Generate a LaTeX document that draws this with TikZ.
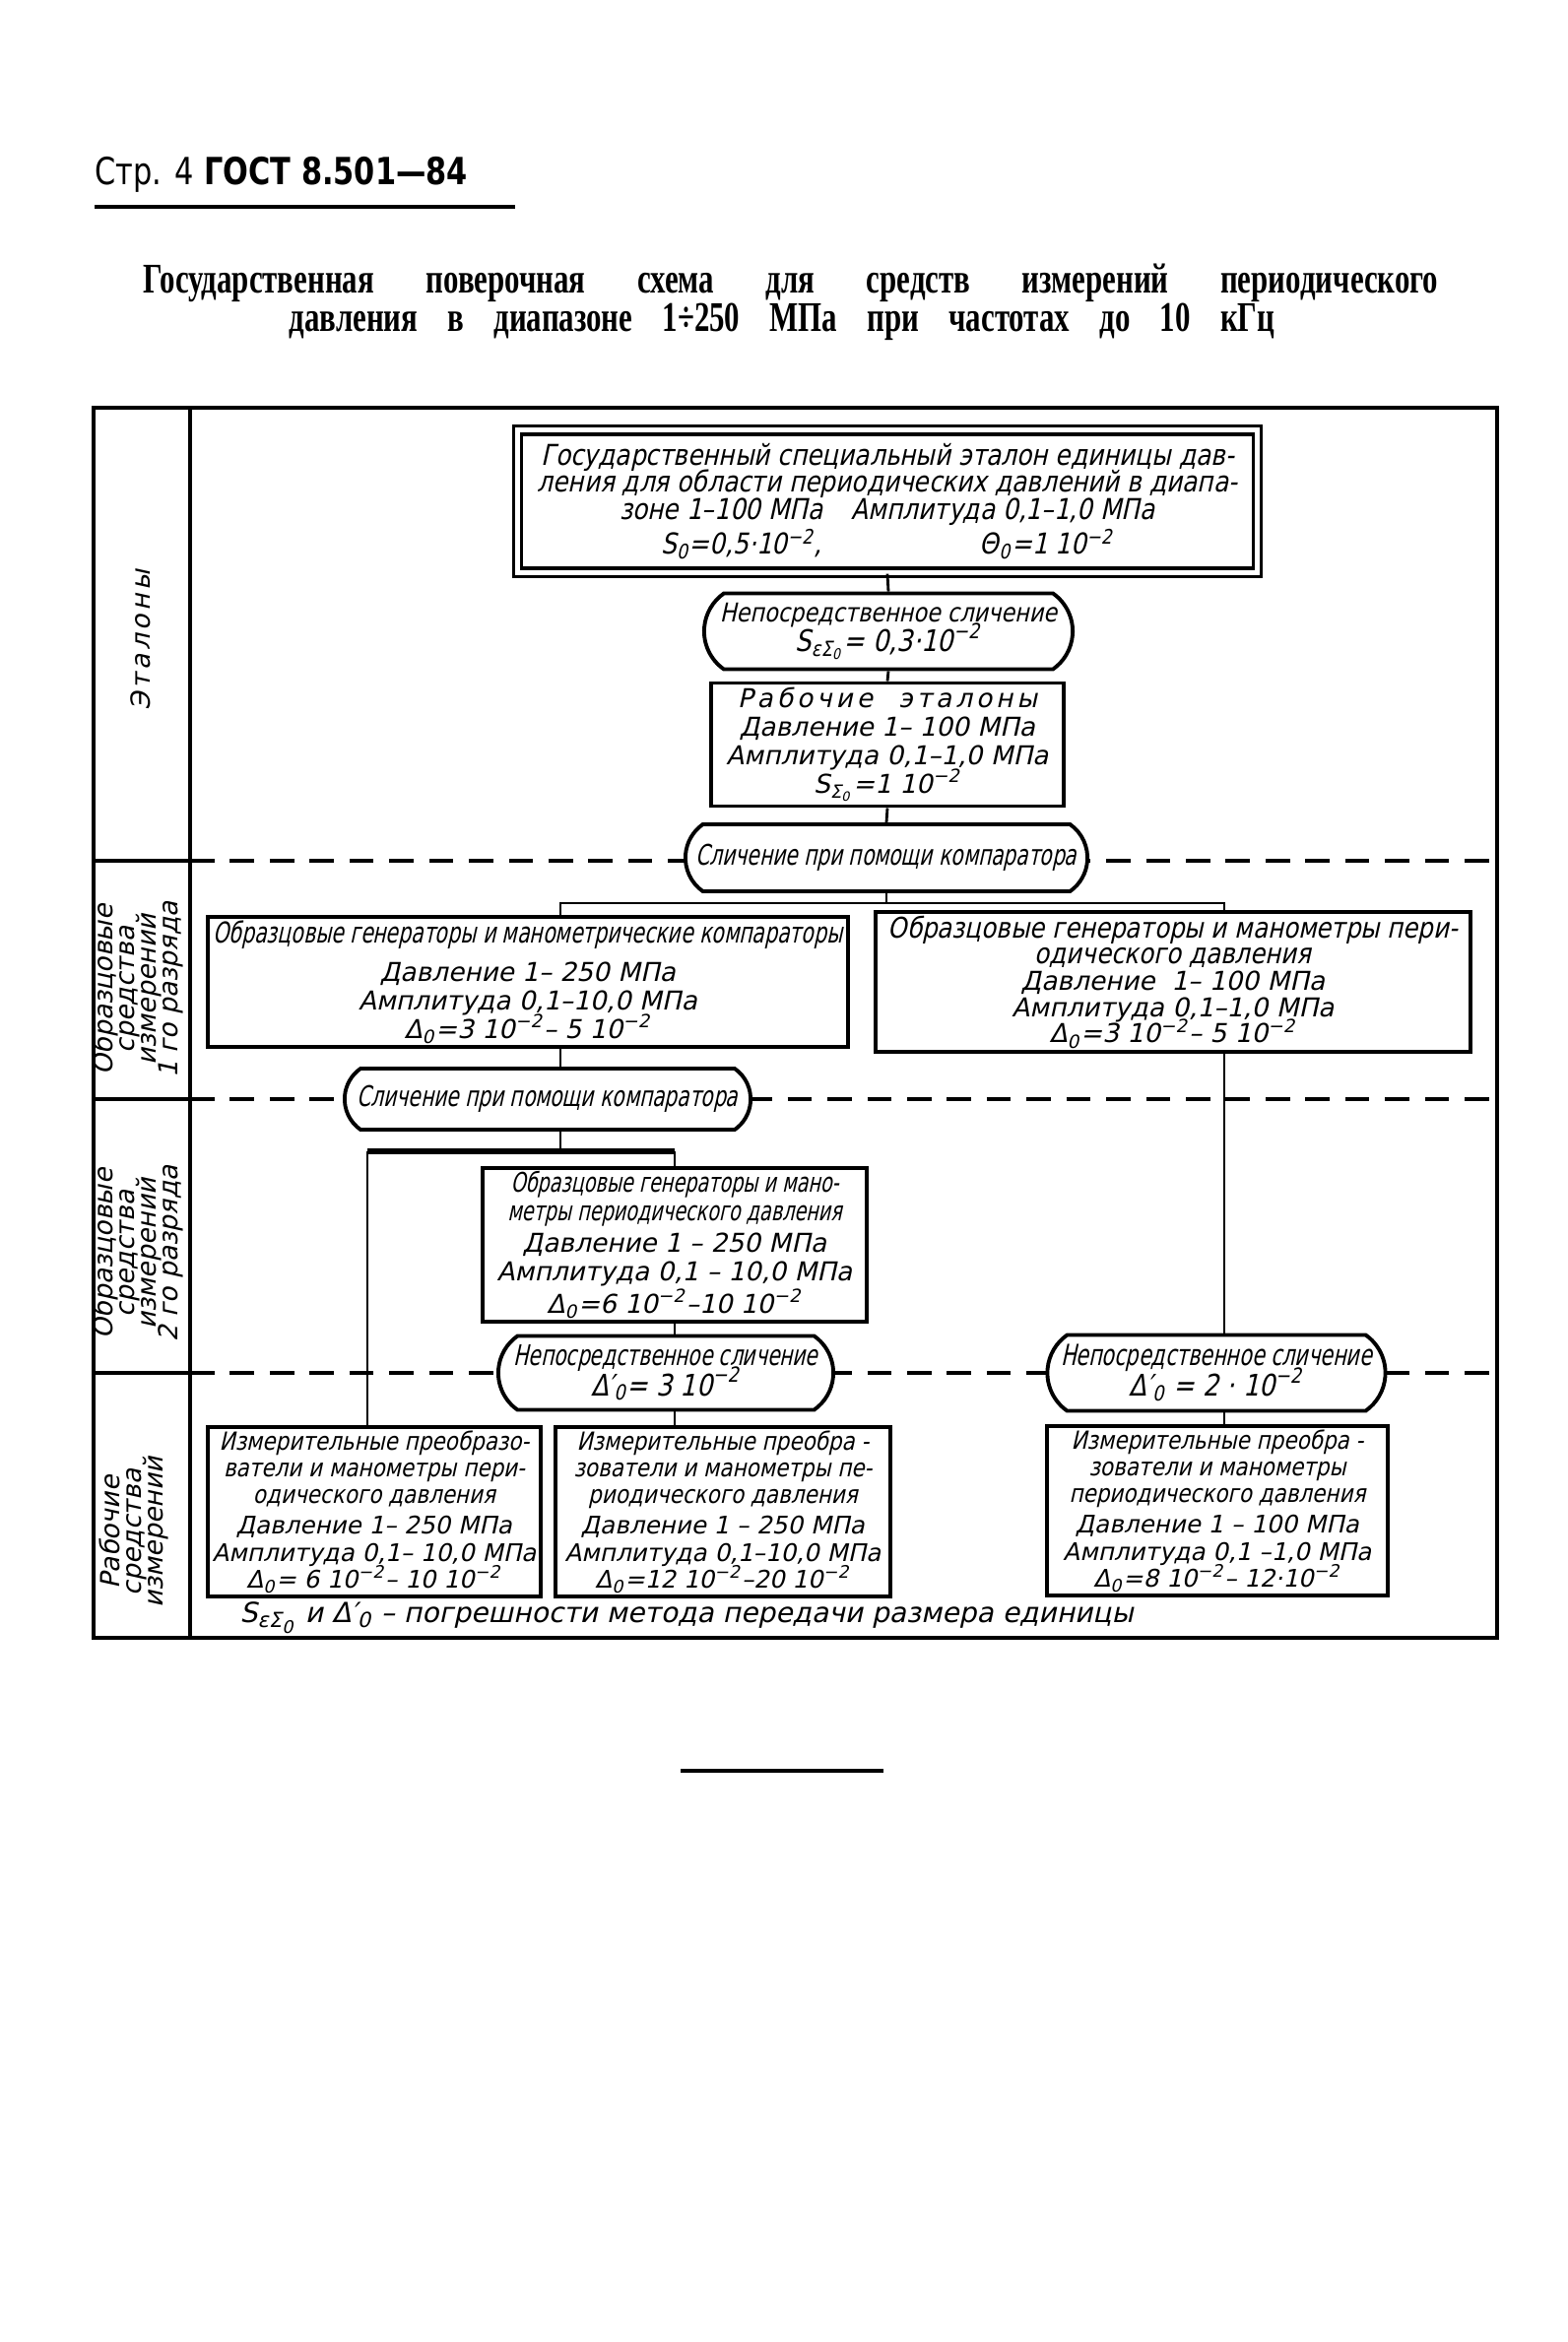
\documentclass[tikz,border=0pt]{standalone}
\usepackage{fontspec}
\setmainfont{DejaVu Sans}
\newfontfamily\gost[FakeSlant=0.22]{DejaVu Sans}
\newfontfamily\gostn[FakeSlant=0.22,FakeStretch=0.85]{DejaVu Sans}
\newfontfamily\gostc[FakeSlant=0.22,FakeStretch=0.7]{DejaVu Sans}
\newfontfamily\headfont[FakeStretch=0.8]{DejaVu Sans}
\newfontfamily\titlefont[FakeStretch=0.72]{Liberation Serif}
\usetikzlibrary{shapes.misc}
\newcommand{\mdva}{\textsuperscript{−2}}
\newcommand{\gostsm}{\gostn\fontsize{7.2}{6.6}\selectfont}
\newcommand{\gostw}{\gost\fontsize{7}{7.8}\selectfont}
\newcommand{\gostnorm}{\gost\fontsize{7.5}{8.2}\selectfont}
\newcommand{\gostbig}{\gostn\fontsize{8.6}{9}\selectfont}
\begin{document}
\setlength{\lineskiplimit}{-5pt}
\begin{tikzpicture}[x=0.01cm, y=-0.01cm,
  box/.style={draw, line width=1.1pt, inner sep=1pt, align=center, fill=white, font=\gostnorm},
  cmp/.style={box, shape=rounded rectangle, rounded rectangle arc length=110},
  link/.style={line width=0.8pt},
  sep/.style={line width=1.1pt, dash pattern=on 7pt off 4.5pt},
  side/.style={rotate=90, align=center, font=\gost\fontsize{7.6}{6.2}\selectfont}]
\useasboundingbox (0,0) rectangle (1592,2378);
\fill[white] (0,0) rectangle (1592,2378);
% header and title
\node[anchor=base west, inner sep=0pt, font=\headfont\bfseries\fontsize{10.8}{12}\selectfont] (hdr) at (96,187) {{\mdseries Стр. 4} ГОСТ 8.501—84};
\draw[line width=1.3pt] (96,210) -- (523,210);
\node[anchor=base, inner sep=0pt, font=\titlefont\bfseries\fontsize{12.2}{13}\selectfont] (ttl1) at (803,297) {\makebox[13.14cm][s]{Государственная поверочная схема для средств измерений периодического}};
\node[anchor=base, inner sep=0pt, font=\titlefont\bfseries\fontsize{12.2}{13}\selectfont] (ttl2) at (794,336) {\makebox[10cm][s]{давления в диапазоне 1÷250 МПа при частотах до 10 кГц}};
% frame
\draw[line width=1.3pt] (95,414) rectangle (1520,1663);
\draw[line width=1.1pt] (193,414) -- (193,1663);
\foreach \y in {874,1116,1394} {
  \draw[line width=1.1pt] (95,\y) -- (193,\y);
  \draw[sep] (193,\y) -- (1520,\y);
}
\node[side] (lab1) at (143,650) {\addfontfeature{LetterSpace=13}Эталоны};
\node[side] (lab2) at (140,1005) {Образцовые\\средства\\измерений\\1 го разряда};
\node[side] (lab3) at (140,1273) {Образцовые\\средства\\измерений\\2 го разряда};
\node[side] (lab4) at (136,1556) {Рабочие\\средства\\измерений};
% etalony
\node[box, double, double distance=0.05cm, line width=0.9pt, minimum width=7.5cm, minimum height=1.44cm, font=\gostn\fontsize{8.3}{7.9}\selectfont] (gse) at (901,509)
  {Государственный специальный эталон единицы дав-\\ления для области периодических давлений в диапа-\\зоне 1–100 МПа\quad Амплитуда 0,1–1,0 МПа\\[2pt]S\textsubscript{0}=0,5·10\mdva,\hspace{1.6cm}Θ\textsubscript{0}=1 10\mdva};
\node[cmp, minimum width=3.81cm, minimum height=0.77cm, font=\gostn\fontsize{7.5}{8.6}\selectfont] (ne1) at (902,641)
  {Непосредственное сличение\\\gostbig S\textsubscript{εΣ\textsubscript{0}}= 0,3·10\mdva};
\node[box, minimum width=3.58cm, minimum height=1.25cm] (rab) at (901,756)
  {{\addfontfeature{LetterSpace=15}Рабочие\quad эталоны}\\Давление 1– 100 МПа\\Амплитуда 0,1–1,0 МПа\\S\textsubscript{Σ\textsubscript{0}}=1 10\mdva};
\node[cmp, minimum width=4.15cm, minimum height=0.68cm, font=\gostc\fontsize{8.2}{9}\selectfont] (cmp1) at (900,871)
  {Сличение при помощи компаратора};
% 1 razryad
\node[box, minimum width=6.49cm, minimum height=1.32cm] (obr1a) at (536,997)
  {{\gostc\fontsize{8.3}{9}\selectfont Образцовые генераторы и манометрические компараторы}\\[3pt]Давление 1– 250 МПа\\Амплитуда 0,1–10,0 МПа\\Δ\textsubscript{0}=3 10\mdva– 5 10\mdva};
\node[box, minimum width=6.03cm, minimum height=1.32cm, font=\gost\fontsize{7.5}{7.6}\selectfont] (obr1b) at (1191,997)
  {\gostn\fontsize{8.2}{7.4}\selectfont Образцовые генераторы и манометры пери-\\\gostn\fontsize{8.2}{7.4}\selectfont одического давления\\Давление \ 1– 100 МПа\\Амплитуда 0,1–1,0 МПа\\Δ\textsubscript{0}=3 10\mdva– 5 10\mdva};
\node[cmp, minimum width=4.19cm, minimum height=0.62cm, font=\gostc\fontsize{8.2}{9}\selectfont] (cmp2) at (556,1116)
  {Сличение при помощи компаратора};
% 2 razryad
\node[box, minimum width=3.89cm, minimum height=1.52cm] (obr2) at (685,1264)
  {\gostc\fontsize{7.8}{6.6}\selectfont Образцовые генераторы и мано-\\\gostc\fontsize{7.8}{6.6}\selectfont метры периодического давления\\[1pt]Давление 1 – 250 МПа\\Амплитуда 0,1 – 10,0 МПа\\[1pt]Δ\textsubscript{0}=6 10\mdva–10 10\mdva};
\node[cmp, minimum width=3.47cm, minimum height=0.75cm, font=\gostc\fontsize{8.2}{8.6}\selectfont] (ne2) at (676,1394)
  {Непосредственное сличение\\\gostbig Δ′\textsubscript{0}= 3 10\mdva};
\node[cmp, minimum width=3.5cm, minimum height=0.77cm, font=\gostc\fontsize{8.4}{8.8}\selectfont] (ne3) at (1235,1394)
  {Непосредственное сличение\\\gostbig Δ′\textsubscript{0} = 2 · 10\mdva};
% rabochie
\node[box, minimum width=3.37cm, minimum height=1.69cm, font=\gostw] (izm1) at (380,1535)
  {\gostsm Измерительные преобразо-\\\gostsm ватели и манометры пери-\\\gostsm одического давления\\[1pt]Давление 1– 250 МПа\\Амплитуда 0,1– 10,0 МПа\\Δ\textsubscript{0}= 6 10\mdva– 10 10\mdva};
\node[box, minimum width=3.4cm, minimum height=1.69cm, font=\gostw] (izm2) at (734,1535)
  {\gostsm Измерительные преобра -\\\gostsm зователи и манометры пе-\\\gostsm риодического давления\\[1pt]Давление 1 – 250 МПа\\Амплитуда 0,1–10,0 МПа\\Δ\textsubscript{0}=12 10\mdva–20 10\mdva};
\node[box, minimum width=3.45cm, minimum height=1.69cm, font=\gostw] (izm3) at (1236,1534)
  {\gostsm Измерительные преобра -\\\gostsm зователи и манометры\\\gostsm периодического давления\\[1pt]Давление 1 – 100 МПа\\Амплитуда 0,1 –1,0 МПа\\Δ\textsubscript{0}=8 10\mdva– 12·10\mdva};
\node[anchor=base west, inner sep=0pt, font=\gost\fontsize{8}{9}\selectfont] (prim) at (243,1647)
  {S\textsubscript{εΣ\textsubscript{0}} и Δ′\textsubscript{0} – погрешности метода передачи размера единицы};
% connectors
\coordinate (j1) at (569,917);
\coordinate (j2) at (1243,917);
\coordinate (j3) at (373,1169);
\coordinate (j4) at (685,1169);
\draw[link] (gse.south) -- (ne1.north);
\draw[link] (ne1.south) -- (rab.north);
\draw[link] (rab.south) -- (cmp1.north);
\draw[link] (cmp1.south) -- (cmp1.south |- j1);
\draw[link] (j1 |- obr1a.north) -- (j1) -- (j2) -- (j2 |- obr1b.north);
\draw[link] (j1 |- obr1a.south) -- (j1 |- cmp2.north);
\draw[link] (j1 |- cmp2.south) -- (j1 |- j3);
\draw[line width=1.5pt] (j3) -- (j4);
\draw[link] (j3) -- (j3 |- izm1.north);
\draw[link] (j4) -- (j4 |- obr2.north);
\draw[link] (j4 |- obr2.south) -- (j4 |- ne2.north);
\draw[link] (j4 |- ne2.south) -- (j4 |- izm2.north);
\draw[link] (j2 |- obr1b.south) -- (j2 |- ne3.north);
\draw[link] (j2 |- ne3.south) -- (j2 |- izm3.north);
\draw[line width=1.3pt] (691,1798) -- (897,1798);
\end{tikzpicture}
\end{document}
